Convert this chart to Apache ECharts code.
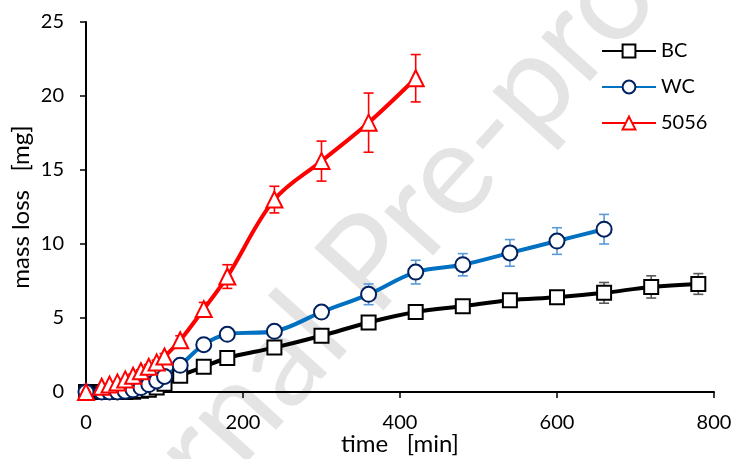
<!DOCTYPE html>
<html>
<head>
<meta charset="utf-8">
<script src="https://cdn.jsdelivr.net/npm/echarts@6/dist/echarts.min.js"></script>
<style>
html,body{margin:0;padding:0;background:#fff;}
#chart{width:742px;height:459px;}
</style>
</head>
<body>
<div id="chart"></div>
<script>
// ---- data ----
const seriesNames = ['BC', 'WC', '5056'];

const timeBC = [0, 20, 30, 40, 50, 60, 70, 80, 90, 100, 120, 150, 180, 240, 300, 360, 420, 480, 540, 600, 660, 720, 780];
const massBC = [0, 0, 0, 0, 0, 0.02, 0.08, 0.15, 0.3, 0.55, 1.1, 1.7, 2.3, 3.0, 3.8, 4.7, 5.4, 5.8, 6.2, 6.4, 6.7, 7.1, 7.3];
const errBC  = [0, 0, 0, 0, 0, 0, 0, 0, 0, 0.1, 0.1, 0.15, 0.15, 0.2, 0.2, 0.3, 0.2, 0.2, 0.3, 0.25, 0.7, 0.75, 0.7];

const timeWC = [0, 20, 30, 40, 50, 60, 70, 80, 90, 100, 120, 150, 180, 240, 300, 360, 420, 480, 540, 600, 660];
const massWC = [0, 0, 0, 0, 0.05, 0.15, 0.3, 0.5, 0.75, 1.05, 1.8, 3.2, 3.9, 4.1, 5.4, 6.6, 8.1, 8.6, 9.4, 10.2, 11.0];
const errWC  = [0, 0, 0, 0, 0, 0, 0, 0, 0.1, 0.1, 0.15, 0.2, 0.2, 0.25, 0.3, 0.7, 0.8, 0.75, 0.9, 0.9, 1.0];

const time5056 = [0, 20, 30, 40, 50, 60, 70, 80, 90, 100, 120, 150, 180, 240, 300, 360, 420];
const mass5056 = [0, 0.35, 0.5, 0.65, 0.85, 1.1, 1.4, 1.7, 2.0, 2.4, 3.5, 5.6, 7.8, 13.0, 15.6, 18.2, 21.2];
const err5056  = [0, 0, 0, 0, 0, 0.1, 0.1, 0.15, 0.15, 0.2, 0.3, 0.45, 0.8, 0.9, 1.35, 2.0, 1.6];

const xTicks = [0, 200, 400, 600, 800];
const yTicks = [0, 5, 10, 15, 20, 25];

const watermark = 'Journal Pre-proof';

// ---- chart ----
const FONT = 'Lato';
function pairs(t, v) { return t.map((x, i) => [x, v[i]]); }
function errData(t, v, e) { return t.map((x, i) => [x, v[i] - e[i], v[i] + e[i]]); }

function errSeries(data, color) {
  return {
    type: 'custom',
    z: 1,
    silent: true,
    data: data,
    encode: { x: 0, y: [1, 2] },
    renderItem: function (params, api) {
      const x = api.value(0);
      const lo = api.coord([x, api.value(1)]);
      const hi = api.coord([x, api.value(2)]);
      const hw = 5;
      const st = { stroke: color, lineWidth: 1.6 };
      return {
        type: 'group',
        children: [
          { type: 'line', shape: { x1: lo[0], y1: lo[1], x2: hi[0], y2: hi[1] }, style: st },
          { type: 'line', shape: { x1: lo[0] - hw, y1: lo[1], x2: lo[0] + hw, y2: lo[1] }, style: st },
          { type: 'line', shape: { x1: hi[0] - hw, y1: hi[1], x2: hi[0] + hw, y2: hi[1] }, style: st }
        ]
      };
    }
  };
}

function lineSeries(name, data, lineColor, borderColor, symbol, size) {
  return {
    name: name,
    type: 'line',
    z: 3,
    data: data,
    smooth: 0.35,
    symbol: symbol,
    symbolSize: size,
    lineStyle: { color: lineColor, width: 4 },
    itemStyle: { color: '#ffffff', borderColor: borderColor, borderWidth: 2 },
    emphasis: { disabled: true },
    animation: false
  };
}

const chart = echarts.init(document.getElementById('chart'), null, { renderer: 'canvas' });
chart.setOption({
  animation: false,
  backgroundColor: '#ffffff',
  graphic: [{
    type: 'text',
    z: -10,
    silent: true,
    x: 378, y: 254,
    rotation: 48 * Math.PI / 180,
    style: {
      text: watermark,
      fontSize: 130,
      fontFamily: FONT,
      fill: '#e4e4e4',
      align: 'center',
      verticalAlign: 'middle'
    }
  }],
  grid: { left: 86, right: 28, top: 22, bottom: 67, containLabel: false, outerBoundsMode: 'none' },
  legend: {
    data: seriesNames,
    orient: 'vertical',
    left: 596,
    top: 36,
    itemWidth: 54,
    itemHeight: 16,
    itemGap: 16,
    textStyle: { fontFamily: FONT, fontSize: 20, color: '#000' }
  },
  xAxis: {
    type: 'value',
    min: xTicks[0],
    max: xTicks[xTicks.length - 1],
    interval: 200,
    name: 'time   [min]',
    nameLocation: 'middle',
    nameGap: 40,
    nameMoveOverlap: false,
    nameTextStyle: { fontFamily: FONT, fontSize: 24, color: '#000' },
    axisLine: { lineStyle: { color: '#000', width: 2 } },
    axisTick: { show: true, length: 6, lineStyle: { color: '#000', width: 1.5 } },
    axisLabel: { fontFamily: FONT, fontSize: 20, color: '#000', margin: 21 },
    splitLine: { show: false }
  },
  yAxis: {
    type: 'value',
    min: yTicks[0],
    max: yTicks[yTicks.length - 1],
    interval: 5,
    name: 'mass loss   [mg]',
    nameLocation: 'middle',
    nameGap: 53,
    nameMoveOverlap: false,
    nameTextStyle: { fontFamily: FONT, fontSize: 24, color: '#000' },
    axisLine: { show: true, lineStyle: { color: '#000', width: 2 } },
    axisTick: { show: true, length: 6, lineStyle: { color: '#000', width: 1.5 } },
    axisLabel: { fontFamily: FONT, fontSize: 20, color: '#000', margin: 22 },
    splitLine: { show: false }
  },
  series: [
    errSeries(errData(timeBC, massBC, errBC), '#595959'),
    errSeries(errData(timeWC, massWC, errWC), '#5b9bd5'),
    errSeries(errData(time5056, mass5056, err5056), '#ff0000'),
    lineSeries('BC', pairs(timeBC, massBC), '#000000', '#000000', 'rect', 14),
    lineSeries('WC', pairs(timeWC, massWC), '#0070c0', '#002060', 'circle', 15),
    lineSeries('5056', pairs(time5056, mass5056), '#ff0000', '#ff0000', 'triangle', 16)
  ]
});
</script>
</body>
</html>
